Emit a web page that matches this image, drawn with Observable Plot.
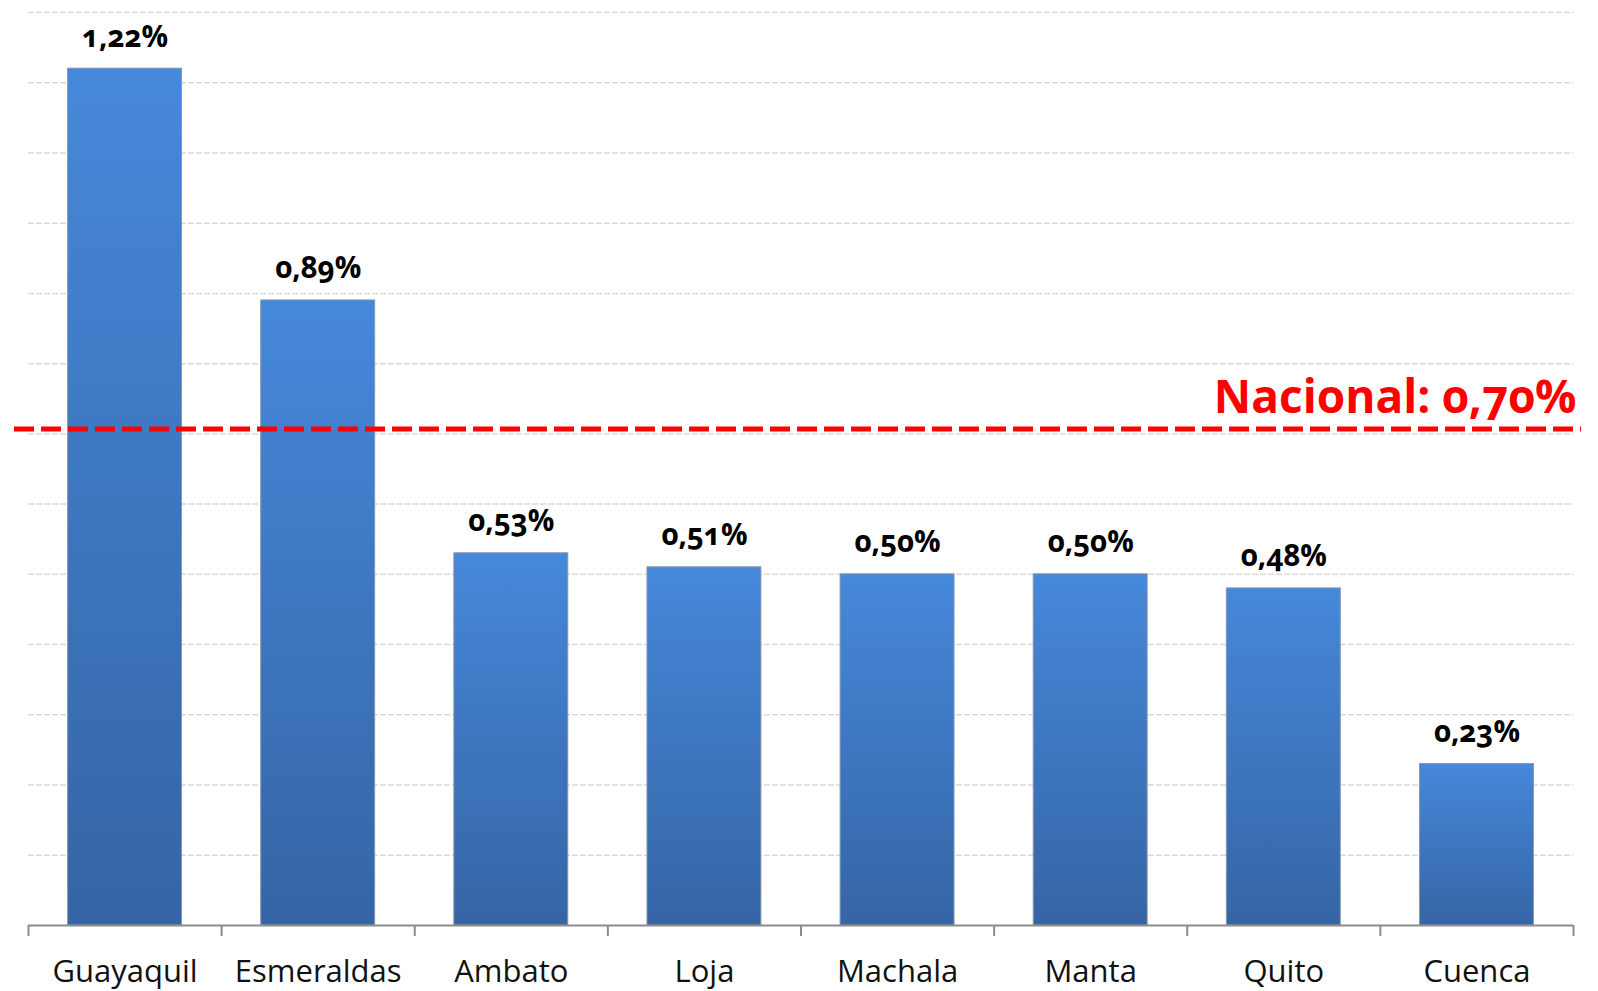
<!DOCTYPE html>
<html><head><meta charset="utf-8">
<script src="https://cdn.jsdelivr.net/npm/d3@7"></script>
<script src="https://cdn.jsdelivr.net/npm/@observablehq/plot@0.6"></script>
<style>
html,body{margin:0;padding:0;background:#fff;}
#chart svg{display:block;}
#chart svg text{font-variant-numeric:oldstyle-nums;}
</style></head><body><div id="chart"></div>
<script>
const cities = ["Guayaquil","Esmeraldas","Ambato","Loja","Machala","Manta","Quito","Cuenca"];
const values = [1.22,0.89,0.53,0.51,0.50,0.50,0.48,0.23];
const valueLabels = ["1,22%","0,89%","0,53%","0,51%","0,50%","0,50%","0,48%","0,23%"];
const nationalValue = 0.70;
const nationalLabel = "Nacional: 0,70%";
const gridTicks = [0.1,0.2,0.3,0.4,0.5,0.6,0.7,0.8,0.9,1.0,1.1,1.2,1.3];

const data = cities.map((c,i)=>({city:c, value:values[i], label:valueLabels[i]}));
const W=1598,H=991, mL=28, mR=25, mT=12, mB=66;
const pad = 0.41;
const step = (W-mL-mR)/cities.length;
const font = "'Open Sans', sans-serif";
const axisGray = "#8c8c8c";

const chart = Plot.plot({
  width: W, height: H, marginLeft: mL, marginRight: mR, marginTop: mT, marginBottom: mB,
  style: {fontFamily: font, background: "#fff"},
  x: {domain: cities, paddingInner: pad, paddingOuter: pad/2, round: false, label: null},
  y: {domain: [0,1.3], axis: null},
  marks: [
    Plot.gridY(gridTicks, {stroke:"#d9d9d9", strokeOpacity:1, strokeWidth:1.5, strokeDasharray:"6,2"}),
    Plot.barY(data, {x:"city", y:"value", fill:"url(#barGrad)", stroke:"#8797ad", strokeWidth:1}),
    Plot.ruleY([0], {stroke:axisGray, strokeWidth:2}),
    Plot.ruleX(cities, {x: d=>d, y1:0, y2:0, dx:-step/2, insetBottom:-11, stroke:axisGray, strokeWidth:2}),
    Plot.ruleX([cities[cities.length-1]], {x: d=>d, y1:0, y2:0, dx:step/2, insetBottom:-11, stroke:axisGray, strokeWidth:2}),
    Plot.axisX({tickSize:0, tickPadding:34, fontSize:31, color:"#111", label:null}),
    Plot.text(data, {x:"city", y:"value", text:"label", lineAnchor:"bottom", dy:-22, fontSize:29.5, fontWeight:"bold", fill:"#000"}),
    Plot.ruleY([nationalValue], {stroke:"#ff0000", strokeWidth:5, strokeDasharray:"20,7", dy:-5, insetLeft:-14, insetRight:-8}),
    Plot.text([nationalLabel], {y: nationalValue, text: d=>d, frameAnchor:"right", textAnchor:"end", lineAnchor:"bottom", dy:-21, dx:3, fontSize:46, fontWeight:"bold", fill:"#ff0000"})
  ]
});
const svg = d3.select(chart.tagName.toLowerCase()==="svg" ? chart : chart.querySelector("svg"));
const grad = svg.insert("defs", ":first-child").append("linearGradient")
  .attr("id","barGrad").attr("x1",0).attr("y1",0).attr("x2",0).attr("y2",1);
grad.append("stop").attr("offset","0%").attr("stop-color","#4688da");
grad.append("stop").attr("offset","100%").attr("stop-color","#3565a5");
document.getElementById("chart").appendChild(chart);
</script></body></html>
